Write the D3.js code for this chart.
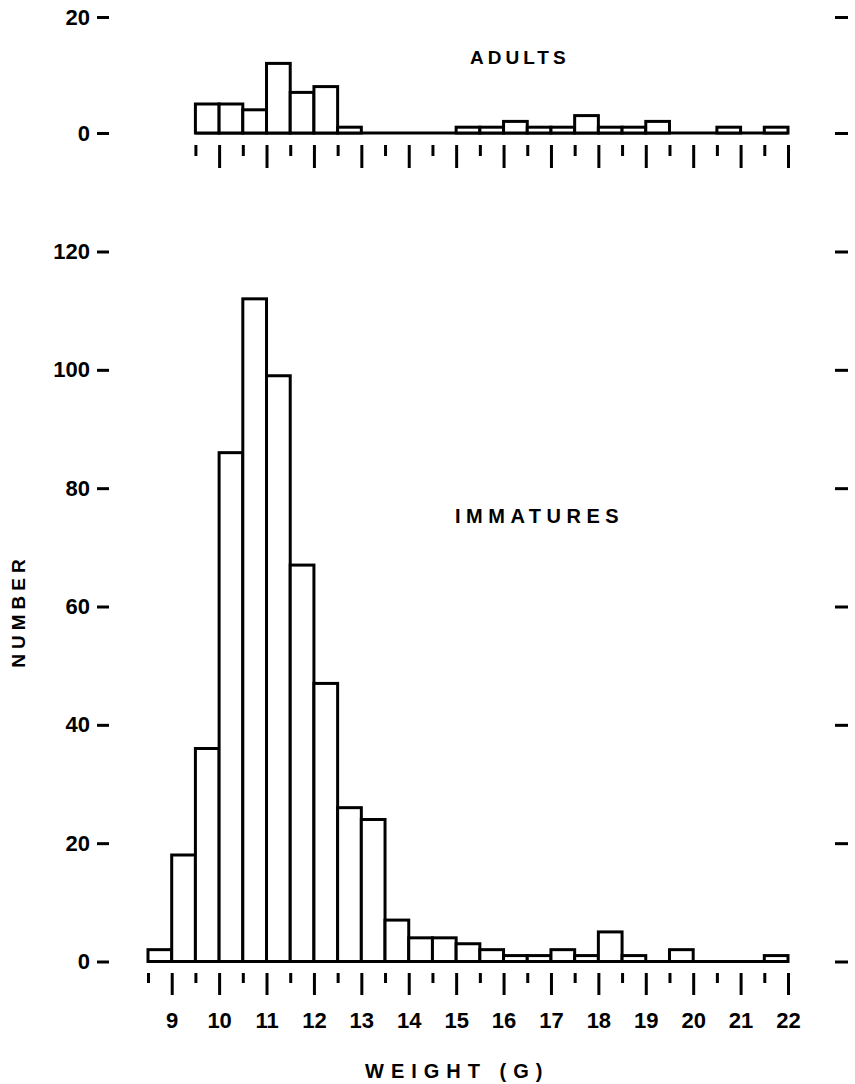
<!DOCTYPE html>
<html>
<head>
<meta charset="utf-8">
<script src="https://cdn.jsdelivr.net/npm/d3@7"></script>
<style>
  body { margin: 0; background: #fff; }
  text { font-family: "Liberation Sans", Arial, sans-serif; font-weight: bold; fill: #000; }
</style>
</head>
<body>
<svg id="chart"></svg>
<script>
// bins are 0.5 g wide, labelled by their lower edge
const binStart = [8.5, 9, 9.5, 10, 10.5, 11, 11.5, 12, 12.5, 13, 13.5, 14, 14.5,
  15, 15.5, 16, 16.5, 17, 17.5, 18, 18.5, 19, 19.5, 20, 20.5, 21, 21.5];
const immatures = [2, 18, 36, 86, 112, 99, 67, 47, 26, 24, 7, 4, 4,
  3, 2, 1, 1, 2, 1, 5, 1, 0, 2, 0, 0, 0, 1];
// adults panel starts at 9.5 g
const adults = [null, null, 5, 5, 4, 12, 7, 8, 1, 0, 0, 0, 0,
  1, 1, 2, 1, 1, 3, 1, 1, 2, 0, 0, 1, 0, 1];
const majorTicks = [9, 10, 11, 12, 13, 14, 15, 16, 17, 18, 19, 20, 21, 22];
const minorTicks = [8.5, 9.5, 10.5, 11.5, 12.5, 13.5, 14.5, 15.5, 16.5, 17.5, 18.5, 19.5, 20.5, 21.5];
const topYTicks = [0, 20];
const botYTicks = [0, 20, 40, 60, 80, 100, 120];

const svg = d3.select("#chart").attr("width", 855).attr("height", 1084);

const x = d3.scaleLinear().domain([8.5, 22]).range([148, 788]);
const yTop = d3.scaleLinear().domain([0, 20]).range([133, 17]);
const yBot = d3.scaleLinear().domain([0, 120]).range([961.5, 251.5]);

function panel(values, y, yTicks, tickY, longLen, shortLen, labels) {
  const g = svg.append("g");
  const data = binStart.map((b, i) => ({ b, v: values[i] })).filter(d => d.v !== null);
  const start = data[0].b;

  // baseline
  g.append("line")
    .attr("x1", x(start)).attr("x2", x(22))
    .attr("y1", y(0)).attr("y2", y(0))
    .attr("stroke", "#000").attr("stroke-width", 3);

  g.selectAll("rect.bar")
    .data(data.filter(d => d.v > 0))
    .join("rect")
    .attr("class", "bar")
    .attr("x", d => x(d.b))
    .attr("y", d => y(d.v))
    .attr("width", d => x(d.b + 0.5) - x(d.b))
    .attr("height", d => y(0) - y(d.v))
    .attr("fill", "#fff")
    .attr("stroke", "#000")
    .attr("stroke-width", 3);

  // long ticks at whole grams, short ticks at halves
  const major = g.append("g")
    .attr("transform", `translate(0,${tickY})`)
    .call(d3.axisBottom(x)
      .tickValues(majorTicks.filter(t => t >= start))
      .tickSize(longLen)
      .tickPadding(17)
      .tickFormat(labels ? d3.format("d") : ""));
  const minor = g.append("g")
    .attr("transform", `translate(0,${tickY})`)
    .call(d3.axisBottom(x)
      .tickValues(minorTicks.filter(t => t >= start))
      .tickSize(shortLen)
      .tickFormat(""));
  [major, minor].forEach(a => {
    a.select(".domain").remove();
    a.selectAll("line").attr("stroke-width", 3);
    a.selectAll("text").style("font-size", "22px");
  });

  const left = g.append("g")
    .attr("transform", "translate(109,0)")
    .call(d3.axisLeft(y).tickValues(yTicks).tickSize(12).tickPadding(7));
  left.select(".domain").remove();
  left.selectAll("line").attr("stroke-width", 3);
  left.selectAll("text").style("font-size", "22px");

  const right = g.append("g")
    .attr("transform", "translate(835,0)")
    .call(d3.axisRight(y).tickValues(yTicks).tickSize(13).tickFormat(""));
  right.select(".domain").remove();
  right.selectAll("line").attr("stroke-width", 3);
}

panel(adults, yTop, topYTicks, 145, 23, 11, false);
panel(immatures, yBot, botYTicks, 973, 22, 10, true);

svg.append("text")
  .attr("x", 470).attr("y", 64)
  .style("font-size", "19px").style("letter-spacing", "4px")
  .text("ADULTS");

svg.append("text")
  .attr("x", 455).attr("y", 523)
  .style("font-size", "20px").style("letter-spacing", "5.5px")
  .text("IMMATURES");

svg.append("text")
  .attr("x", 365).attr("y", 1078)
  .style("font-size", "20px").style("letter-spacing", "7px")
  .text("WEIGHT (G)");

svg.append("text")
  .attr("transform", "translate(25,611) rotate(-90)")
  .attr("text-anchor", "middle")
  .style("font-size", "19px").style("letter-spacing", "5px")
  .text("NUMBER");
</script>
</body>
</html>
